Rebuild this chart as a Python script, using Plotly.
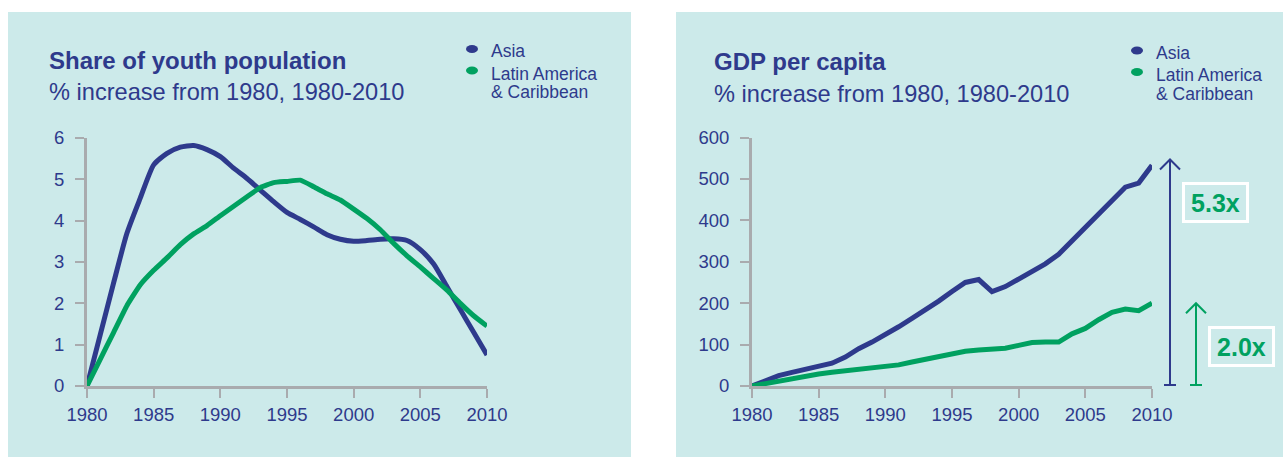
import plotly.graph_objects as go

# ---------------- data ----------------
years = list(range(1980, 2011))
youth_asia = [0, 1.25, 2.5, 3.7, 4.55, 5.35, 5.63, 5.78, 5.82, 5.72,
              5.55, 5.27, 5.02, 4.74, 4.46, 4.2, 4.03, 3.85, 3.66, 3.55,
              3.5, 3.52, 3.55, 3.56, 3.52, 3.3, 2.95, 2.4, 1.85, 1.3, 0.75]
youth_latam = [0, 0.65, 1.3, 1.95, 2.45, 2.8, 3.1, 3.42, 3.68, 3.88,
               4.12, 4.35, 4.58, 4.8, 4.92, 4.95, 4.98, 4.82, 4.65, 4.5,
               4.28, 4.05, 3.78, 3.45, 3.15, 2.88, 2.6, 2.32, 2.0, 1.7, 1.45]
gdp_asia = [0, 14, 25, 33, 40, 46, 55, 70, 90, 106,
            123, 143, 163, 183, 205, 228, 250, 257, 228, 240,
            258, 275, 295, 318, 350, 380, 413, 447, 480, 490, 533]
gdp_latam = [0, 6, 14, 20, 25, 29, 33, 37, 40, 43,
             46, 51, 58, 65, 72, 79, 84, 87, 90, 91,
             98, 105, 106, 106, 126, 139, 160, 178, 186, 182, 200]
x_ticks = [1980, 1985, 1990, 1995, 2000, 2005, 2010]
youth_ticks = [0, 1, 2, 3, 4, 5, 6]
gdp_ticks = [0, 100, 200, 300, 400, 500, 600]
series_names = ["Asia", "Latin America", "& Caribbean"]
multiples = ["5.3x", "2.0x"]
arrow_top_asia = 547
arrow_top_latam = 200

# ---------------- style ----------------
W, H = 1283, 457
NAVY = "#2E3A8C"
GREEN = "#00A160"
BG = "#CCEAEA"
AXIS = "#A9ABAE"
FONT = "Liberation Sans, Arial, sans-serif"


def px(x):
    return x / W


def py(y):
    return 1 - y / H


fig = go.Figure()

fig.add_trace(go.Scatter(x=years, y=youth_asia, mode="lines", xaxis="x", yaxis="y",
                         line=dict(color=NAVY, width=5, shape="spline", smoothing=0.6)))
fig.add_trace(go.Scatter(x=years, y=youth_latam, mode="lines", xaxis="x", yaxis="y",
                         line=dict(color=GREEN, width=5, shape="spline", smoothing=0.4)))
fig.add_trace(go.Scatter(x=years, y=gdp_asia, mode="lines", xaxis="x2", yaxis="y2",
                         line=dict(color=NAVY, width=5)))
fig.add_trace(go.Scatter(x=years, y=gdp_latam, mode="lines", xaxis="x2", yaxis="y2",
                         line=dict(color=GREEN, width=5)))

axis_common = dict(showline=True, linecolor=AXIS, linewidth=3, ticks="outside",
                   ticklen=9, tickwidth=2, tickcolor=AXIS, showgrid=False,
                   zeroline=False, fixedrange=True, automargin=False,
                   tickfont=dict(family=FONT, size=18.5, color=NAVY))

fig.update_layout(
    width=W, height=H, autosize=False,
    margin=dict(l=0, r=0, t=0, b=0, pad=0, autoexpand=False),
    paper_bgcolor="white", plot_bgcolor="rgba(0,0,0,0)",
    showlegend=False,
    font=dict(family=FONT, color=NAVY),
    xaxis=dict(domain=[px(87), px(487)], range=[1980, 2010], tickvals=x_ticks,
               anchor="y", ticklabelstandoff=1, **axis_common),
    yaxis=dict(domain=[71 / H, (H - 138) / H], range=[0, 6], tickvals=youth_ticks,
               anchor="x", ticklabelstandoff=7, **axis_common),
    xaxis2=dict(domain=[px(752), px(1152)], range=[1980, 2010], tickvals=x_ticks,
                anchor="y2", ticklabelstandoff=1, **axis_common),
    yaxis2=dict(domain=[71 / H, (H - 137.5) / H], range=[0, 600], tickvals=gdp_ticks,
                anchor="x2", ticklabelstandoff=7, **axis_common),
)

shapes = []
# panel backgrounds
shapes.append(dict(type="rect", xref="paper", yref="paper", x0=px(8), x1=px(631),
                   y0=0, y1=py(12), fillcolor=BG, line=dict(width=0), layer="below"))
shapes.append(dict(type="rect", xref="paper", yref="paper", x0=px(676), x1=1,
                   y0=0, y1=py(12), fillcolor=BG, line=dict(width=0), layer="below"))

annotations = []


def add_panel_text(x_left, title, dot_x, text_x, dy):
    annotations.append(dict(xref="paper", yref="paper", x=px(x_left), y=py(60 + dy),
                            xanchor="left", yanchor="middle", showarrow=False,
                            text="<b>" + title + "</b>",
                            font=dict(family=FONT, size=24, color=NAVY)))
    annotations.append(dict(xref="paper", yref="paper", x=px(x_left), y=py(92 + dy),
                            xanchor="left", yanchor="middle", showarrow=False,
                            text="% increase from 1980, 1980-2010",
                            font=dict(family=FONT, size=23.6, color=NAVY)))
    # legend
    for cy, col in [(49 + dy, NAVY), (70.5 + dy, GREEN)]:
        shapes.append(dict(type="circle", xref="paper", yref="paper",
                           xsizemode="pixel", ysizemode="pixel",
                           xanchor=px(dot_x), yanchor=py(cy),
                           x0=-6, x1=6, y0=-4, y1=4,
                           fillcolor=col, line=dict(width=0)))
    for ty, t in [(51.5 + dy, series_names[0]), (74 + dy, series_names[1]),
                  (92 + dy, series_names[2])]:
        annotations.append(dict(xref="paper", yref="paper", x=px(text_x), y=py(ty),
                                xanchor="left", yanchor="middle", showarrow=False,
                                text=t, font=dict(family=FONT, size=17.5, color=NAVY)))


add_panel_text(47, "Share of youth population", 472, 489, 0)
add_panel_text(712, "GDP per capita", 1137, 1154, 1.5)

# growth arrows
for xpix, top, col in [(1170, arrow_top_asia, NAVY), (1196, arrow_top_latam, GREEN)]:
    shapes.append(dict(type="line", xref="paper", yref="y2", x0=px(xpix), x1=px(xpix),
                       y0=0, y1=top, line=dict(color=col, width=2)))
    shapes.append(dict(type="path", xref="paper", yref="y2",
                       xsizemode="pixel", ysizemode="pixel",
                       xanchor=px(xpix), yanchor=top,
                       path="M -10,-10 L 0,0 L 10,-10",
                       line=dict(color=col, width=2)))
    shapes.append(dict(type="path", xref="paper", yref="y2",
                       xsizemode="pixel", ysizemode="pixel",
                       xanchor=px(xpix), yanchor=0,
                       path="M -6,1 L 6,1",
                       line=dict(color=col, width=2)))

for cx, cy, t in [(1215, 202, multiples[0]), (1241.5, 346.5, multiples[1])]:
    annotations.append(dict(xref="paper", yref="paper", x=px(cx), y=py(cy),
                            xanchor="center", yanchor="middle", showarrow=False,
                            text="<b>" + t + "</b>", width=61, height=35,
                            align="center", valign="middle",
                            bordercolor="white", borderwidth=3, borderpad=0,
                            font=dict(family=FONT, size=25, color=GREEN)))

fig.update_layout(shapes=shapes, annotations=annotations)

post = (
    "document.documentElement.style.margin='0';"
    "document.body.style.margin='0';"
)
fig.write_html("out.html", post_script=post,
               config={"displayModeBar": False})
